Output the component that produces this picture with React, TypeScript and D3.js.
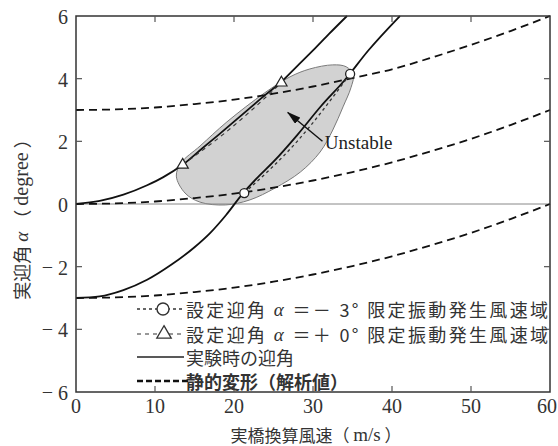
import * as React from 'react'
import * as d3 from 'd3'

const WIDTH = 558
const HEIGHT = 446

// static deformation (analysis), every 5 m/s
const staticSpeed = [0, 5, 10, 15, 20, 25, 30, 35, 40, 45, 50, 55, 60]
const staticFromPlus3 = [3.0, 3.02, 3.08, 3.19, 3.33, 3.52, 3.75, 4.02, 4.3, 4.67, 5.08, 5.52, 6.0]
const staticFromZero = [0, 0.02, 0.08, 0.19, 0.33, 0.52, 0.75, 1.02, 1.33, 1.69, 2.08, 2.52, 3.0]
const staticFromMinus3 = [-3.0, -2.98, -2.92, -2.81, -2.67, -2.48, -2.25, -1.98, -1.67, -1.31, -0.92, -0.48, 0]

// angle of attack during the test
const testSpeedA = [0, 3, 6, 9, 11, 13.5, 16, 18, 20, 22, 24, 26, 28, 30, 32, 34.3]
const testAlphaA = [0, 0.1, 0.3, 0.6, 0.85, 1.25, 1.78, 2.2, 2.63, 3.06, 3.49, 3.9, 4.4, 4.9, 5.42, 6.0]
const testSpeedB = [0, 3, 6, 9, 12, 15, 17, 19, 21, 23, 25, 28, 31, 34, 37, 41]
const testAlphaB = [-3.0, -2.95, -2.75, -2.42, -1.95, -1.38, -0.92, -0.35, 0.3, 0.85, 1.35, 2.2, 3.12, 3.95, 4.9, 6.0]

// onset range of limited vibration (markers at both ends)
const rangeMinus3Speed = [21.3, 28, 34.7]
const rangeMinus3Alpha = [0.35, 2.0, 4.15]
const rangeZeroSpeed = [13.5, 19.5, 26]
const rangeZeroAlpha = [1.25, 2.4, 3.87]

// outline of the unstable region
const unstableSpeed = [12.7, 13.3, 15.7, 19.1, 23.9, 27.1, 29.6, 32.5, 34.2, 35.1, 34.8, 33.8, 32.5, 30.9, 28.4, 25.2, 22.0, 18.9, 15.7, 13.8]
const unstableAlpha = [0.89, 1.31, 1.85, 2.62, 3.55, 4.06, 4.31, 4.44, 4.38, 4.12, 3.71, 3.1, 2.36, 1.66, 1.02, 0.51, 0.13, -0.03, 0.06, 0.35]

const arrowFrom = [31.2, 2.0]
const arrowTo = [26.8, 2.92]
const unstableLabel = 'Unstable'
const unstableLabelAt = [31.5, 1.76]

const xTicks = [0, 10, 20, 30, 40, 50, 60]
const yTicks = [6, 4, 2, 0, -2, -4, -6]

const legendLabels = [
  '設定迎角 α ＝－ 3°  限定振動発生風速域',
  '設定迎角 α ＝＋ 0°  限定振動発生風速域',
  '実験時の迎角',
  '静的変形（解析値）',
]
const xTitle = ['実橋換算風速（ ', 'm/s', ' ）']
const yTitle = ['実迎角 ', 'α', ' （ ', 'degree', ' ）']

const SERIF = '"Liberation Serif", "DejaVu Serif", serif'
const CJK = '"Noto Sans CJK JP", sans-serif'

class Chart extends React.Component {
  ref = React.createRef<SVGSVGElement>()

  componentDidMount() {
    const svg = d3.select(this.ref.current)
    svg.selectAll('*').remove()

    const x = d3.scaleLinear().domain([0, 60]).range([76, 550])
    const y = d3.scaleLinear().domain([-6, 6]).range([392, 16])

    const line = d3
      .line<[number, number]>()
      .x((d) => x(d[0]))
      .y((d) => y(d[1]))
      .curve(d3.curveMonotoneX)

    const zip = (xs: number[], ys: number[]) => xs.map((v, i) => [v, ys[i]] as [number, number])

    svg
      .append('defs')
      .append('marker')
      .attr('id', 'arrow')
      .attr('markerUnits', 'userSpaceOnUse')
      .attr('markerWidth', 14)
      .attr('markerHeight', 8)
      .attr('refX', 13)
      .attr('refY', 4)
      .attr('orient', 'auto')
      .append('path')
      .attr('d', 'M0,0 L14,4 L0,8 z')
      .attr('fill', '#111')

    // unstable region
    svg
      .append('path')
      .attr(
        'd',
        d3
          .line<[number, number]>()
          .x((d) => x(d[0]))
          .y((d) => y(d[1]))
          .curve(d3.curveCatmullRomClosed)(zip(unstableSpeed, unstableAlpha))
      )
      .attr('fill', '#d2d2d2')
      .attr('stroke', '#7a7a7a')
      .attr('stroke-width', 1)

    // zero line
    svg
      .append('line')
      .attr('x1', x(0))
      .attr('x2', x(60))
      .attr('y1', y(0))
      .attr('y2', y(0))
      .attr('stroke', '#888')
      .attr('stroke-width', 1)

    const statics = [staticFromPlus3, staticFromZero, staticFromMinus3]
    statics.forEach((s) => {
      svg
        .append('path')
        .attr('d', line(zip(staticSpeed, s)))
        .attr('fill', 'none')
        .attr('stroke', '#111')
        .attr('stroke-width', 1.8)
        .attr('stroke-dasharray', '8,5')
    })

    const tests = [zip(testSpeedA, testAlphaA), zip(testSpeedB, testAlphaB)]
    tests.forEach((t) => {
      svg
        .append('path')
        .attr('d', line(t))
        .attr('fill', 'none')
        .attr('stroke', '#111')
        .attr('stroke-width', 1.8)
    })

    svg
      .append('path')
      .attr('d', line(zip(rangeMinus3Speed, rangeMinus3Alpha)))
      .attr('fill', 'none')
      .attr('stroke', '#333')
      .attr('stroke-width', 1.3)
      .attr('stroke-dasharray', '3,3')

    svg
      .append('path')
      .attr('d', line(zip(rangeZeroSpeed, rangeZeroAlpha)))
      .attr('fill', 'none')
      .attr('stroke', '#333')
      .attr('stroke-width', 1.1)
      .attr('stroke-dasharray', '4,4')

    const ends = (xs: number[], ys: number[]) => [0, xs.length - 1].map((i) => [xs[i], ys[i]])

    svg
      .selectAll('circle.range-minus3')
      .data(ends(rangeMinus3Speed, rangeMinus3Alpha))
      .enter()
      .append('circle')
      .attr('class', 'range-minus3')
      .attr('cx', (d) => x(d[0]))
      .attr('cy', (d) => y(d[1]))
      .attr('r', 4.5)
      .attr('fill', '#fff')
      .attr('stroke', '#222')
      .attr('stroke-width', 1.3)

    svg
      .selectAll('path.range-zero')
      .data(ends(rangeZeroSpeed, rangeZeroAlpha))
      .enter()
      .append('path')
      .attr('class', 'range-zero')
      .attr('d', d3.symbol(d3.symbolTriangle, 55))
      .attr('transform', (d) => `translate(${x(d[0])},${y(d[1])})`)
      .attr('fill', '#fff')
      .attr('stroke', '#222')
      .attr('stroke-width', 1.2)

    // frame and inner ticks
    svg
      .append('rect')
      .attr('x', x(0))
      .attr('y', y(6))
      .attr('width', x(60) - x(0))
      .attr('height', y(-6) - y(6))
      .attr('fill', 'none')
      .attr('stroke', '#333')
      .attr('stroke-width', 1.5)

    const innerX = xTicks.slice(1, -1)
    const innerY = yTicks.filter((t) => t !== 0 && Math.abs(t) !== 6)
    const tickG = svg.append('g').attr('stroke', '#555').attr('stroke-width', 1.2)
    innerX.forEach((t) => {
      tickG.append('line').attr('x1', x(t)).attr('x2', x(t)).attr('y1', y(6)).attr('y2', y(6) + 6)
      tickG.append('line').attr('x1', x(t)).attr('x2', x(t)).attr('y1', y(-6)).attr('y2', y(-6) - 6)
    })
    innerY.forEach((t) => {
      tickG.append('line').attr('x1', x(0)).attr('x2', x(0) + 6).attr('y1', y(t)).attr('y2', y(t))
      tickG.append('line').attr('x1', x(60)).attr('x2', x(60) - 6).attr('y1', y(t)).attr('y2', y(t))
    })

    const lastX = xTicks[xTicks.length - 1]
    svg
      .selectAll('text.x-tick')
      .data(xTicks)
      .enter()
      .append('text')
      .attr('class', 'x-tick')
      .attr('x', (d) => (d === lastX ? WIDTH - 1 : x(d)))
      .attr('y', 406)
      .attr('text-anchor', (d) => (d === lastX ? 'end' : 'middle'))
      .attr('dominant-baseline', 'central')
      .attr('font-family', SERIF)
      .attr('font-size', 20)
      .attr('fill', '#333')
      .text((d) => d)

    const yLab = svg.append('g').attr('font-family', SERIF).attr('font-size', 20).attr('fill', '#333')
    yTicks.forEach((t) => {
      yLab
        .append('text')
        .attr('x', 68)
        .attr('y', y(t) + 1)
        .attr('text-anchor', 'end')
        .attr('dominant-baseline', 'central')
        .text(Math.abs(t))
      if (t < 0) {
        yLab
          .append('text')
          .attr('x', 53)
          .attr('y', y(t))
          .attr('text-anchor', 'end')
          .attr('dominant-baseline', 'central')
          .text('−')
      }
    })

    // axis titles
    const xt = svg
      .append('text')
      .attr('x', 316)
      .attr('y', 434)
      .attr('text-anchor', 'middle')
      .attr('dominant-baseline', 'central')
      .attr('font-family', CJK)
      .attr('font-size', 17)
      .attr('fill', '#333')
    xTitle.forEach((s, i) => {
      xt.append('tspan')
        .attr('font-family', i === 1 ? SERIF : CJK)
        .attr('font-size', i === 1 ? 19 : 17)
        .text(s)
    })

    const yt = svg
      .append('text')
      .attr('transform', 'translate(21,215) rotate(-90)')
      .attr('text-anchor', 'middle')
      .attr('dominant-baseline', 'central')
      .attr('font-family', CJK)
      .attr('font-size', 18)
      .attr('fill', '#333')
    yTitle.forEach((s) => {
      const ts = yt.append('tspan').text(s)
      if (s === 'α') ts.attr('font-family', SERIF).attr('font-style', 'italic').attr('font-size', 19)
      if (s === 'degree') ts.attr('font-family', SERIF).attr('font-size', 20)
    })

    // annotation
    svg
      .append('line')
      .attr('x1', x(arrowFrom[0]))
      .attr('y1', y(arrowFrom[1]))
      .attr('x2', x(arrowTo[0]))
      .attr('y2', y(arrowTo[1]))
      .attr('stroke', '#111')
      .attr('stroke-width', 1.4)
      .attr('marker-end', 'url(#arrow)')

    svg
      .append('text')
      .attr('x', x(unstableLabelAt[0]))
      .attr('y', y(unstableLabelAt[1]))
      .attr('font-family', SERIF)
      .attr('font-size', 19)
      .attr('fill', '#222')
      .text(unstableLabel)

    // legend
    const rows = [309, 334, 357, 381]
    const lg = svg.append('g')
    lg.append('line').attr('x1', 137).attr('x2', 183).attr('y1', rows[0]).attr('y2', rows[0])
      .attr('stroke', '#333').attr('stroke-width', 1.6).attr('stroke-dasharray', '3,3')
    lg.append('circle').attr('cx', 163).attr('cy', rows[0]).attr('r', 6)
      .attr('fill', '#fff').attr('stroke', '#333').attr('stroke-width', 1.4)
    lg.append('line').attr('x1', 137).attr('x2', 183).attr('y1', rows[1]).attr('y2', rows[1])
      .attr('stroke', '#333').attr('stroke-width', 1.2).attr('stroke-dasharray', '4,4')
    lg.append('path').attr('d', d3.symbol(d3.symbolTriangle, 90))
      .attr('transform', `translate(164,${rows[1]})`)
      .attr('fill', '#fff').attr('stroke', '#333').attr('stroke-width', 1.3)
    lg.append('line').attr('x1', 137).attr('x2', 184).attr('y1', rows[2]).attr('y2', rows[2])
      .attr('stroke', '#222').attr('stroke-width', 1.6)
    lg.append('line').attr('x1', 137).attr('x2', 188).attr('y1', rows[3]).attr('y2', rows[3])
      .attr('stroke', '#111').attr('stroke-width', 2.4).attr('stroke-dasharray', '6,3')

    legendLabels.forEach((label, i) => {
      const t = lg
        .append('text')
        .attr('x', 186)
        .attr('y', rows[i])
        .attr('dominant-baseline', 'central')
        .attr('font-family', CJK)
        .attr('font-size', 18)
        .attr('font-weight', i === 3 ? 'bold' : 'normal')
        .attr('fill', '#333')
      if (i < 2) t.attr('textLength', 362).attr('lengthAdjust', 'spacing')
      label.split(/(α)/).forEach((s) => {
        const ts = t.append('tspan').text(s)
        if (s === 'α') ts.attr('font-family', SERIF).attr('font-style', 'italic').attr('font-size', 19)
      })
    })
  }

  render() {
    return (
      <svg
        ref={this.ref}
        width={WIDTH}
        height={HEIGHT}
        style={{ position: 'absolute', left: 0, top: 0, background: '#fff' }}
      />
    )
  }
}

export default function App() {
  return <Chart />
}
